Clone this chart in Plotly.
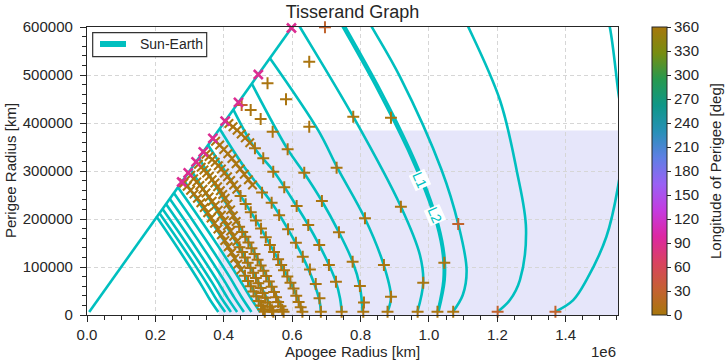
import plotly.graph_objects as go
from plotly.colors import sample_colorscale, cyclical

# ---------------- data (values in thousand km) ----------------
diag_ra = [6.378, 650.0]
diag_rp = [6.378, 650.0]

contour_ra = [
    [204, 252.6, 299.4, 335.4, 360.6, 384],
    [212, 263.8, 313.8, 352.2, 379.0, 404],
    [221, 275, 327, 367, 395, 421],
    [231, 287.2, 341.2, 382.8, 412, 439],
    [242, 300.6, 357, 400.4, 430.8, 459],
    [254, 315.3, 374.3, 419.7, 451.5, 481],
    [266, 330.8, 393.2, 441.2, 474.8, 506],
    [282, 348.6, 412.9, 460.5, 493.8, 520],
    [303, 370.8, 436.1, 484.5, 518.4, 545],
    [327, 396.4, 463.4, 513, 547.7, 575],
    [354, 434, 511.3, 566.5, 605.2, 630],
    [388, 462, 540, 588, 631, 665, 680, 684],
    [428, 491, 547, 613, 647, 679, 708, 728, 740, 745],
    [482, 587, 635, 687, 737, 777, 798, 806],
    [535, 676, 732, 813, 868, 889, 879],
    [612.5, 622.8, 778.7, 918.1, 973.7, 983.3, 966.4],
    [793, 832.5, 915.2, 1037.1, 1085.7, 1110.2, 1099, 1070.2],
    [1080, 1114.9, 1207.6, 1256.4, 1284, 1266.1, 1236.8, 1200.9],
    [1510, 1529, 1553, 1570, 1553, 1519, 1461, 1422, 1370],
]
contour_rp = [
    [204, 153, 102, 61.2, 30.6, 6.4],
    [212, 159, 106, 63.6, 31.8, 6.4],
    [221, 165.8, 110.5, 66.3, 33.2, 6.4],
    [231, 173.3, 115.5, 69.3, 34.7, 6.4],
    [242, 181.5, 121, 72.6, 36.3, 6.4],
    [254, 190.5, 127, 76.2, 38.1, 6.4],
    [266, 199.5, 133, 79.8, 39.9, 6.4],
    [282, 211.5, 141, 84.6, 42.3, 6.4],
    [303, 227.3, 151.5, 90.9, 45.5, 6.4],
    [327, 245.3, 163.5, 98.1, 49.1, 6.4],
    [354, 265.5, 177, 106.2, 53.1, 6.4],
    [388, 306, 234, 178.5, 121.5, 64.6, 30, 6.4],
    [428, 347, 298.5, 227, 187.5, 146, 104, 69, 35, 6.4],
    [482, 345, 296, 237.5, 172, 111, 60, 6.4],
    [535, 385, 307, 201, 104, 38, 6.4],
    [612.5, 600, 413.1, 225.6, 125, 67.3, 6.9],
    [650, 600.6, 496.5, 302.1, 189.6, 93.8, 41.7, 6.9],
    [650, 600.6, 447.9, 302.1, 180, 72.9, 31.3, 6.9],
    [650, 600, 469, 370, 267, 163, 73, 31, 6.9],
]

l1_ra = [709, 748.5, 850.9, 938.6, 988.3, 1023.4, 1040.9, 1042.4, 1025.4]
l2_ra = [716, 755.5, 857.9, 945.0, 994.0, 1028.0, 1045.0, 1046.0, 1028.0]
l12_rp = [650, 600, 468.7, 343.7, 260.4, 187.5, 125, 72.9, 6.9]
label_text = ["L1", "L2"]
label_ra = [973.7, 1017.5]
label_rp = [281.3, 208.3]

pink_x_ra = [277, 296, 319, 340, 368, 404, 443, 501, 598]
pink_x_rp = [277, 296, 319, 340, 368, 404, 443, 501, 598]
lon_pink = 90

brown_x_ra = [283, 293, 303, 313, 323, 333, 343, 353, 363, 373, 383, 393, 403, 413, 423, 432, 441, 450,
              303, 312, 321, 330, 339, 348, 357, 366, 375, 384, 393, 402, 411, 420, 429, 438,
              326, 334, 342, 350, 358, 366, 374, 382, 390, 397, 404, 412, 420, 428, 436,
              348, 357, 366, 375, 384, 393, 402, 411, 420, 429, 438,
              376, 388, 400, 412, 424, 436, 448, 460, 472, 484,
              415, 427, 439, 451, 463, 476]
brown_x_rp = [275, 268, 260, 252, 243, 234, 224, 213, 202, 191, 179, 167, 155, 142, 130, 118, 106, 94,
              291, 284, 277, 270, 262, 254, 246, 237, 228, 218, 208, 197, 186, 175, 164, 153,
              314, 308, 302, 296, 289, 282, 275, 267, 259, 251, 243, 231, 219, 207, 195,
              335, 330, 324, 318, 311, 304, 296, 288, 280, 271, 262,
              362, 354, 345, 336, 326, 315, 304, 293, 282, 271,
              399, 392, 385, 377, 369, 359]
lon_brown = 3

brown_plus_ra = [462, 471, 479, 487, 495, 502, 509, 515, 520,
                 446, 454, 462, 470, 478, 486, 494, 501, 508, 514, 521, 528, 535, 541, 545,
                 445, 454, 463, 472, 481, 490, 499, 508, 516, 524, 532, 540, 547, 553, 559, 566, 571, 575,
                 449, 464, 479, 494, 509, 523, 535, 547, 559, 568, 576, 586, 595, 604, 612, 619, 625, 630,
                 512, 540, 562, 588, 611, 631, 652, 669, 680, 684,
                 491.2, 515.5, 544.7, 576.9, 613.2, 647.1, 679.2, 707.6, 728.1, 744.7,
                 478.7, 507.9, 543, 586.8, 635.4, 687, 736.8, 776.9, 798.2, 810, 808,
                 528, 582, 650, 730, 813, 868.4, 889, 879,
                 650, 778.7, 918, 983.3, 967,
                 889, 1045, 1025,
                 1071]
brown_plus_rp = [82, 71, 60, 49, 39, 29, 20, 12, 6.9,
                 141, 131, 120, 109, 98, 88, 77, 66, 56, 46, 36, 26, 17, 10, 6.9,
                 184, 173, 163, 151, 139, 127, 115, 103, 92, 81, 70, 59, 48, 37, 27, 18, 11, 6.9,
                 248, 231, 214, 197, 180, 162, 146, 131, 116, 104, 93, 80, 67, 55, 40, 27, 16, 6.9,
                 255, 234, 208, 178.5, 150.6, 121.5, 95, 64.6, 35, 6.9,
                 347.3, 326.5, 298.5, 266, 227, 187.5, 145.8, 104.2, 69.4, 6.9,
                 427, 408.3, 381.9, 345.2, 296.5, 237.5, 172.3, 111, 60.4, 26, 6.9,
                 482.7, 449.4, 392.3, 306.9, 201.5, 104.2, 38.1, 6.9,
                 527.7, 413, 225.6, 67.3, 6.9,
                 411, 109, 6.9,
                 6.9]

orange_plus_ra = [452.3, 696, 1085.7, 1201, 1370]
orange_plus_rp = [437.5, 599.4, 189.6, 6.9, 6.9]
lon_orange = 28

moon_orbit_km = 384400
x_max_km = 1553000
x_tick_vals = [0, 200000, 400000, 600000, 800000, 1000000, 1200000, 1400000]
x_tick_text = ["0.0", "0.2", "0.4", "0.6", "0.8", "1.0", "1.2", "1.4"]
y_tick_vals = [0, 100000, 200000, 300000, 400000, 500000, 600000]
y_tick_text = ["0", "100000", "200000", "300000", "400000", "500000", "600000"]
cbar_ticks = [0, 30, 60, 90, 120, 150, 180, 210, 240, 270, 300, 330, 360]
legend_label = "Sun-Earth"

# ---------------- styling ----------------
TEAL = "#00BFBF"
INK = "#262626"
FONT = "Liberation Sans, Arial, Helvetica, sans-serif"
phase = cyclical.Phase


def km(v):
    return [a * 1000 for a in v]


def lon_color(v):
    return sample_colorscale(phase, [v / 360.0])[0]


fig = go.Figure()

fig.add_shape(type="rect", xref="x", yref="y", x0=moon_orbit_km, x1=x_max_km,
              y0=0, y1=moon_orbit_km, fillcolor="#E6E6FA", line_width=0, layer="below")

line_style = dict(color=TEAL, width=2.6, shape="spline", smoothing=1.0)
fig.add_trace(go.Scatter(x=km(diag_ra), y=km(diag_rp), mode="lines", name=legend_label,
                         line=dict(color=TEAL, width=2.6), showlegend=False, hoverinfo="skip"))
for ra, rp in zip(contour_ra, contour_rp):
    fig.add_trace(go.Scatter(x=km(ra), y=km(rp), mode="lines", line=line_style,
                             showlegend=False, hoverinfo="skip"))
for ra in (l1_ra, l2_ra):
    fig.add_trace(go.Scatter(x=km(ra), y=km(l12_rp), mode="lines", line=line_style,
                             showlegend=False, hoverinfo="skip"))


def marker_trace(ra, rp, symbol, lon, size, width):
    c = lon_color(lon)
    return go.Scatter(x=km(ra), y=km(rp), mode="markers", cliponaxis=False,
                      marker=dict(symbol=symbol, size=size, color=c,
                                  line=dict(color=c, width=width)),
                      showlegend=False, hoverinfo="skip")


fig.add_trace(marker_trace(brown_x_ra, brown_x_rp, "x-thin", lon_brown, 8.5, 2.1))
fig.add_trace(marker_trace(brown_plus_ra, brown_plus_rp, "cross-thin", lon_brown, 8.5, 2.0))
fig.add_trace(marker_trace(orange_plus_ra, orange_plus_rp, "cross-thin", lon_orange, 8.5, 2.0))
fig.add_trace(marker_trace(pink_x_ra, pink_x_rp, "x-thin", lon_pink, 9, 2.6))

# colorbar carrier (title drawn separately so the colorbar fits in the right margin)
fig.add_trace(go.Scatter(
    x=[None], y=[None], mode="markers", showlegend=False, hoverinfo="skip",
    marker=dict(color=[0], colorscale=phase, cmin=0, cmax=360, showscale=True,
                colorbar=dict(x=1.0635, xanchor="left", xpad=0, y=0.5, yanchor="middle",
                              len=1, lenmode="fraction", ypad=0, thickness=15,
                              outlinewidth=1, outlinecolor=INK,
                              tickmode="array", tickvals=cbar_ticks,
                              ticks="outside", ticklen=4, tickwidth=1, tickcolor=INK,
                              tickfont=dict(size=15, color=INK, family=FONT)))))
fig.add_annotation(text="Longitude of Perigee [deg]", xref="paper", yref="paper",
                   x=1.1827, y=0.5, xanchor="center", yanchor="middle", textangle=-90,
                   showarrow=False, font=dict(size=15, color=INK, family=FONT))

# L1 / L2 contour labels
for t, xr, yr in zip(label_text, label_ra, label_rp):
    fig.add_annotation(x=xr * 1000, y=yr * 1000, xref="x", yref="y", text=t, showarrow=False,
                       textangle=66, font=dict(size=14, color=TEAL, family=FONT),
                       bgcolor="white", borderpad=0)

# legend box (drawn in paper coordinates)
fig.add_shape(type="rect", xref="paper", yref="paper", x0=0.0107, x1=0.2254, y0=0.8969, y1=0.9802,
              line=dict(color="#333333", width=1.2), fillcolor="white", layer="above")
fig.add_shape(type="line", xref="paper", yref="paper", x0=0.0245, x1=0.0734, y0=0.941, y1=0.941,
              line=dict(color=TEAL, width=6), layer="above")
fig.add_annotation(text=legend_label, xref="paper", yref="paper", x=0.096, y=0.941,
                   xanchor="left", yanchor="middle", showarrow=False,
                   font=dict(size=14, color=INK, family=FONT))

axis_common = dict(showline=True, linecolor=INK, linewidth=1.3, mirror=True,
                   ticks="outside", ticklen=6, tickwidth=1.2, tickcolor=INK,
                   tickfont=dict(size=15, color=INK, family=FONT),
                   showgrid=True, gridcolor="#D6D6D6", gridwidth=1, griddash="4px,3px",
                   zeroline=False)

fig.update_xaxes(range=[0, x_max_km], tickmode="array", tickvals=x_tick_vals,
                 ticktext=x_tick_text,
                 minor=dict(tickmode="linear", tick0=0, dtick=50000, ticks="outside",
                            ticklen=3.5, tickcolor=INK, tickwidth=1, showgrid=False),
                 **axis_common)
fig.update_yaxes(range=[0, 600000], tickmode="array", tickvals=y_tick_vals,
                 ticktext=y_tick_text, ticklabelstandoff=4,
                 minor=dict(tickmode="linear", tick0=0, dtick=20000, ticks="outside",
                            ticklen=3.5, tickcolor=INK, tickwidth=1, showgrid=False),
                 **axis_common)

fig.add_annotation(text="Apogee Radius [km]", xref="paper", yref="paper", x=0.5, y=-0.128,
                   xanchor="center", yanchor="middle", showarrow=False,
                   font=dict(size=15, color=INK, family=FONT))
fig.add_annotation(text="Perigee Radius [km]", xref="paper", yref="paper", x=-0.145, y=0.5,
                   xanchor="center", yanchor="middle", showarrow=False, textangle=-90,
                   font=dict(size=15, color=INK, family=FONT))
fig.add_annotation(text="1e6", xref="paper", yref="paper", x=1.0, y=-0.127,
                   xanchor="right", yanchor="middle", showarrow=False,
                   font=dict(size=15, color=INK, family=FONT))

fig.update_layout(
    width=726, height=363,
    margin=dict(l=87, r=108, t=27, b=48),
    paper_bgcolor="white", plot_bgcolor="white",
    font=dict(family=FONT, color=INK),
    title=dict(text="Tisserand Graph", x=0.5, xref="paper", xanchor="center",
               y=1 - 11.3 / 363, yref="container", yanchor="middle",
               font=dict(size=18, color=INK, family=FONT)),
    showlegend=False,
)

fig.write_html("out.html", config={"displayModeBar": False},
               post_script="document.body.style.margin='0';document.body.style.padding='0';")
